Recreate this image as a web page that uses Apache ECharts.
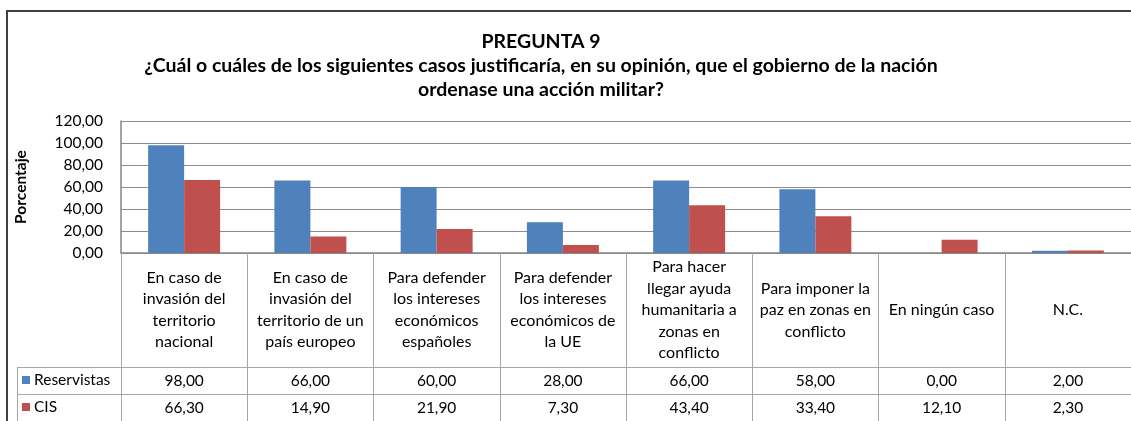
<!DOCTYPE html>
<html>
<head>
<meta charset="utf-8">
<script src="https://cdn.jsdelivr.net/npm/echarts@6/dist/echarts.min.js"></script>
<style>
html, body { margin: 0; padding: 0; background: #fff; }
#main { width: 1131px; height: 421px; }
</style>
</head>
<body>
<div id="main"></div>
<script>
// datos de la pregunta 9
var categorias = [
    'En caso de\ninvasión del\nterritorio\nnacional',
    'En caso de\ninvasión del\nterritorio de un\npaís europeo',
    'Para defender\nlos intereses\neconómicos\nespañoles',
    'Para defender\nlos intereses\neconómicos de\nla UE',
    'Para hacer\nllegar ayuda\nhumanitaria a\nzonas en\nconflicto',
    'Para imponer la\npaz en zonas en\nconflicto',
    'En ningún caso',
    'N.C.'
];
var reservistas = [98.0, 66.0, 60.0, 28.0, 66.0, 58.0, 0.0, 2.0];
var cis = [66.3, 14.9, 21.9, 7.3, 43.4, 33.4, 12.1, 2.3];
var ejeY = { min: 0, max: 120, interval: 20 };

var fuente = 'Lato';
var gris = '#a6a6a6';

function fmt(v) {
    return Number(v).toFixed(2).replace('.', ',');
}

// una leyenda por fila de la tabla
function leyenda(nombre, top) {
    return {
        data: [nombre],
        left: 22,
        top: top,
        padding: 0,
        icon: 'rect',
        itemWidth: 8,
        itemHeight: 8,
        itemGap: 0,
        selectedMode: false,
        textStyle: { fontFamily: fuente, fontSize: 15.5, color: '#000', padding: [0, 0, 0, -1] }
    };
}

var option = {
    animation: false,
    backgroundColor: '#fff',
    textStyle: { fontFamily: fuente },
    grid: { left: 121, top: 121, width: 1011, height: 132 },
    legend: [leyenda('Reservistas', 372), leyenda('CIS', 399)],
    xAxis: [
        {
            type: 'category',
            data: categorias,
            axisLine: { lineStyle: { color: '#868686', width: 1.5 } },
            axisTick: { show: true, length: 170, lineStyle: { color: gris } },
            axisLabel: {
                interval: 0,
                margin: 57,
                verticalAlign: 'middle',
                lineHeight: 21.5,
                fontSize: 16,
                fontFamily: fuente,
                color: '#000'
            }
        },
        {
            type: 'category',
            data: categorias,
            position: 'bottom',
            offset: 114,
            axisLine: { lineStyle: { color: gris } },
            axisTick: { show: false },
            axisLabel: {
                interval: 0,
                margin: 13.5,
                verticalAlign: 'middle',
                fontSize: 15.5,
                fontFamily: fuente,
                color: '#000',
                formatter: function (v, i) { return fmt(reservistas[i]); }
            }
        },
        {
            type: 'category',
            data: categorias,
            position: 'bottom',
            offset: 141,
            axisLine: { lineStyle: { color: gris } },
            axisTick: { show: false },
            axisLabel: {
                interval: 0,
                margin: 13.5,
                verticalAlign: 'middle',
                fontSize: 15.5,
                fontFamily: fuente,
                color: '#000',
                formatter: function (v, i) { return fmt(cis[i]); }
            }
        }
    ],
    yAxis: {
        type: 'value',
        min: ejeY.min,
        max: ejeY.max,
        interval: ejeY.interval,
        name: 'Porcentaje',
        nameLocation: 'middle',
        nameRotate: 90,
        nameGap: 92,
        nameTextStyle: { fontFamily: fuente, fontSize: 15.5, fontWeight: 'bold', color: '#000' },
        axisLine: { show: true, lineStyle: { color: '#868686', width: 1.5 } },
        axisTick: { show: false },
        splitLine: { lineStyle: { color: '#8c8c8c', width: 1 } },
        axisLabel: {
            margin: 18,
            fontSize: 15.5,
            fontFamily: fuente,
            color: '#000',
            formatter: function (v) { return fmt(v); }
        }
    },
    series: [
        {
            name: 'Reservistas',
            type: 'bar',
            data: reservistas,
            barGap: '0%',
            barCategoryGap: '43%',
            itemStyle: { color: '#4f81bd' }
        },
        {
            name: 'CIS',
            type: 'bar',
            data: cis,
            barGap: '0%',
            barCategoryGap: '43%',
            itemStyle: { color: '#c0504d' }
        }
    ],
    graphic: [
        // marco del gráfico
        { type: 'rect', shape: { x: 7, y: 11, width: 1300, height: 600 },
          style: { fill: 'none', stroke: '#404040', lineWidth: 2 }, silent: true },
        // título
        { type: 'text', x: 541, y: 30,
          style: { text: 'PREGUNTA 9\n¿Cuál o cuáles de los siguientes casos justificaría, en su opinión, que el gobierno de la nación\nordenase una acción militar?',
                   align: 'center', fill: '#000', font: 'bold 19.5px Lato', lineHeight: 24 } },
        // celdas de la leyenda
        { type: 'line', shape: { x1: 17, y1: 367.5, x2: 121, y2: 367.5 }, style: { stroke: gris, lineWidth: 1 } },
        { type: 'line', shape: { x1: 17, y1: 394.5, x2: 121, y2: 394.5 }, style: { stroke: gris, lineWidth: 1 } },
        { type: 'line', shape: { x1: 17.5, y1: 367, x2: 17.5, y2: 421 }, style: { stroke: gris, lineWidth: 1 } }
    ]
};

var myChart = echarts.init(document.getElementById('main'));
myChart.setOption(option, true);
</script>
</body>
</html>
